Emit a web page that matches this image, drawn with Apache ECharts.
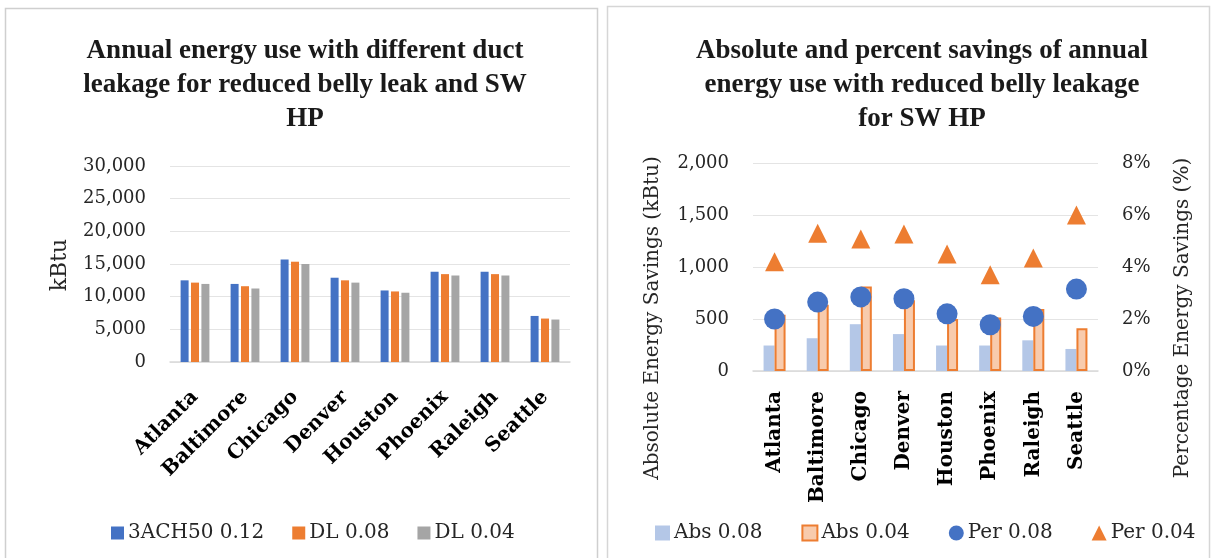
<!DOCTYPE html>
<html>
<head>
<meta charset="utf-8">
<script src="https://cdn.jsdelivr.net/npm/echarts@6/dist/echarts.min.js"></script>
<style>
html,body{margin:0;padding:0;background:#fff;}
#c{width:1212px;height:558px;}
</style>
</head>
<body>
<div id="c"></div>
<script>
const cities = ['Atlanta','Baltimore','Chicago','Denver','Houston','Phoenix','Raleigh','Seattle'];
// Left chart: annual energy use (kBtu)
const use3ACH50 = [12500, 11950, 15700, 12900, 10950, 13800, 13800, 7050];
const useDL008  = [12150, 11600, 15350, 12500, 10800, 13450, 13450, 6650];
const useDL004  = [11950, 11250, 15000, 12150, 10600, 13250, 13250, 6500];
// Right chart: savings
const abs008 = [245, 315, 450, 355, 245, 245, 295, 212];
const abs004 = [540, 636, 812, 681, 501, 514, 597, 411];
const per008 = [2.0, 2.65, 2.85, 2.78, 2.2, 1.78, 2.1, 3.15];
const per004 = [4.2, 5.3, 5.08, 5.27, 4.5, 3.7, 4.35, 6.0];
const leftTicks = [0, 30000, 5000];
const rightTicksAbs = [0, 2000, 500];
const rightTicksPer = [0, 8, 2];

const FONT = 'DejaVu Serif';
const C_BLUE = '#4472C4', C_ORANGE = '#ED7D31', C_GRAY = '#A5A5A5';
const C_LBLUE = '#B4C7E7', C_PEACH = '#F8CBAD';

const chart = echarts.init(document.getElementById('c'), null, {renderer: 'canvas'});

const axisLabelStyle = {color: '#262626', fontFamily: FONT, fontSize: 18};

const option = {
  animation: false,
  backgroundColor: '#fff',
  textStyle: {fontFamily: FONT},
  title: [
    {
      text: 'Annual energy use with different duct\nleakage for reduced belly leak and SW\nHP',
      left: 300, top: 29, textAlign: 'center',
      textStyle: {fontFamily: 'Liberation Serif', fontWeight: 'bold', fontSize: 27, lineHeight: 34, color: '#1a1a1a'}
    },
    {
      text: 'Absolute and percent savings of annual\nenergy use with reduced belly leakage\nfor SW HP',
      left: 917, top: 29, textAlign: 'center',
      textStyle: {fontFamily: 'Liberation Serif', fontWeight: 'bold', fontSize: 27, lineHeight: 34, color: '#1a1a1a'}
    }
  ],
  legend: [
    {
      data: ['3ACH50 0.12', 'DL 0.08', 'DL 0.04'],
      left: 106, top: 518, itemWidth: 13, itemHeight: 13, itemGap: 28,
      icon: 'rect',
      textStyle: {fontFamily: FONT, fontSize: 20, color: '#262626', padding: [0, 0, 0, -1]}
    },
    {
      data: [
        {name: 'Abs 0.08', icon: 'rect'},
        {name: 'Abs 0.04', icon: 'rect'},
        {name: 'Per 0.08', icon: 'circle'},
        {name: 'Per 0.04', icon: 'triangle'}
      ],
      left: 650, top: 518, itemWidth: 15, itemHeight: 15, itemGap: 39,
      textStyle: {fontFamily: FONT, fontSize: 20, color: '#262626', padding: [0, 0, 0, -1]}
    }
  ],
  grid: [
    {left: 170, top: 166, width: 400, height: 196},
    {left: 753, top: 163, width: 345, height: 208}
  ],
  xAxis: [
    {
      type: 'category', gridIndex: 0, data: cities,
      axisTick: {show: false},
      axisLine: {lineStyle: {color: '#D9D9D9', width: 1.5}},
      axisLabel: {rotate: 45, margin: 32, interval: 0, color: '#000', fontFamily: FONT, fontWeight: 'bold', fontSize: 20}
    },
    {
      type: 'category', gridIndex: 1, data: cities,
      axisTick: {show: false},
      axisLine: {lineStyle: {color: '#D9D9D9', width: 1.5}},
      axisLabel: {rotate: 90, margin: 20, interval: 0, color: '#000', fontFamily: FONT, fontWeight: 'bold', fontSize: 20}
    }
  ],
  yAxis: [
    {
      type: 'value', gridIndex: 0, min: leftTicks[0], max: leftTicks[1], interval: leftTicks[2],
      axisLine: {show: false}, axisTick: {show: false},
      splitLine: {lineStyle: {color: '#E4E4E4', width: 1}},
      axisLabel: Object.assign({margin: 24, formatter: v => v.toLocaleString('en-US')}, axisLabelStyle)
    },
    {
      type: 'value', gridIndex: 1, min: rightTicksAbs[0], max: rightTicksAbs[1], interval: rightTicksAbs[2],
      axisLine: {show: false}, axisTick: {show: false},
      splitLine: {lineStyle: {color: '#E4E4E4', width: 1}},
      axisLabel: Object.assign({margin: 24, formatter: v => v.toLocaleString('en-US')}, axisLabelStyle)
    },
    {
      type: 'value', gridIndex: 1, position: 'right', min: rightTicksPer[0], max: rightTicksPer[1], interval: rightTicksPer[2],
      axisLine: {show: false}, axisTick: {show: false},
      splitLine: {show: false},
      axisLabel: Object.assign({margin: 24, formatter: '{value}%'}, axisLabelStyle)
    }
  ],
  graphic: [
    {type: 'rect', shape: {x: 5.5, y: 8.5, width: 592, height: 560}, style: {fill: 'none', stroke: '#CFCFCF', lineWidth: 1.5}, silent: true},
    {type: 'rect', shape: {x: 607.5, y: 6.5, width: 602, height: 560}, style: {fill: 'none', stroke: '#D6D6D6', lineWidth: 1.5}, silent: true},
    {type: 'text', x: 60, y: 265, rotation: Math.PI / 2,
      style: {text: 'kBtu', fontFamily: FONT, fontSize: 22, fill: '#262626', textAlign: 'center', textVerticalAlign: 'middle'}},
    {type: 'text', x: 653, y: 318, rotation: Math.PI / 2,
      style: {text: 'Absolute Energy Savings (kBtu)', fontFamily: FONT, fontSize: 20, fill: '#262626', textAlign: 'center', textVerticalAlign: 'middle'}},
    {type: 'text', x: 1183, y: 318, rotation: Math.PI / 2,
      style: {text: 'Percentage Energy Savings (%)', fontFamily: FONT, fontSize: 20, fill: '#262626', textAlign: 'center', textVerticalAlign: 'middle'}}
  ],
  series: [
    {name: '3ACH50 0.12', type: 'bar', xAxisIndex: 0, yAxisIndex: 0, data: use3ACH50, barWidth: 8, barGap: '30%', itemStyle: {color: C_BLUE}},
    {name: 'DL 0.08', type: 'bar', xAxisIndex: 0, yAxisIndex: 0, data: useDL008, barWidth: 8, barGap: '30%', itemStyle: {color: C_ORANGE}},
    {name: 'DL 0.04', type: 'bar', xAxisIndex: 0, yAxisIndex: 0, data: useDL004, barWidth: 8, barGap: '30%', itemStyle: {color: C_GRAY}},
    {name: 'Abs 0.08', type: 'bar', xAxisIndex: 1, yAxisIndex: 1, data: abs008, barWidth: 11, barGap: '0%', itemStyle: {color: C_LBLUE}},
    {name: 'Abs 0.04', type: 'bar', xAxisIndex: 1, yAxisIndex: 1, data: abs004, barWidth: 11, barGap: '0%', itemStyle: {color: C_PEACH, borderColor: C_ORANGE, borderWidth: 2}},
    {name: 'Per 0.08', type: 'scatter', xAxisIndex: 1, yAxisIndex: 2, data: per008, symbol: 'circle', symbolSize: 21, itemStyle: {color: C_BLUE, opacity: 1}},
    {name: 'Per 0.04', type: 'scatter', xAxisIndex: 1, yAxisIndex: 2, data: per004, symbol: 'triangle', symbolSize: 19, itemStyle: {color: C_ORANGE, opacity: 1}}
  ]
};
chart.setOption(option);
</script>
</body>
</html>
